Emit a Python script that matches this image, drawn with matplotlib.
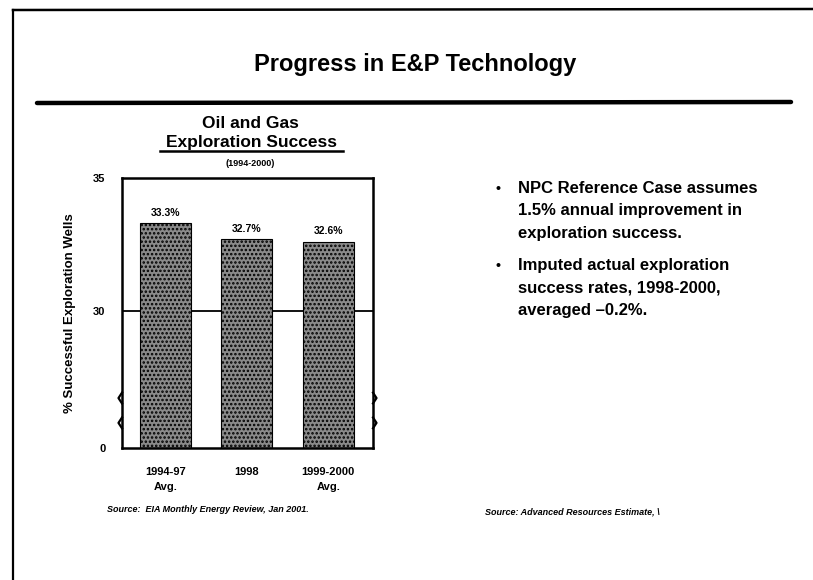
import numpy as np
import matplotlib
matplotlib.use("Agg")
import matplotlib.pyplot as plt
from matplotlib.lines import Line2D

categories = ["1994-97\nAvg.", "1998", "1999-2000\nAvg."]
success = [33.3, 32.7, 32.6]
value_labels = ["33.3%", "32.7%", "32.6%"]
yticks = [0, 30, 35]
ytick_labels = ["0", "30", "35"]

plt.rcParams['font.family'] = ['Liberation Sans', 'DejaVu Sans']
plt.rcParams['hatch.linewidth'] = 1.2

W, H = 813, 580
fig = plt.figure(figsize=(W / 100, H / 100), dpi=100)

def fx(px):
    return px / W

def fy(py):
    return 1 - py / H

# slide frame
fig.add_artist(Line2D([fx(13), fx(13)], [fy(10), 0], color='black', lw=1.6))
fig.add_artist(Line2D([fx(13), 1], [fy(10), fy(9)], color='black', lw=1.8))
fig.add_artist(Line2D([fx(37), fx(791)], [fy(103), fy(102)], color='black', lw=3.2,
                      solid_capstyle='round'))

fig.text(fx(415), fy(64), "Progress in E&P Technology", ha='center', va='center',
         fontsize=17, fontweight='bold')

# break-axis scale: 0-30 compressed
LOW = 5.15

def fwd(v):
    v = np.asarray(v, dtype=float)
    return np.where(v <= 30, v * LOW / 30.0, LOW + (v - 30))

def inv(u):
    u = np.asarray(u, dtype=float)
    return np.where(u <= LOW, u * 30.0 / LOW, 30 + (u - LOW))

ax = fig.add_axes([fx(122), fy(448), fx(373) - fx(122), fy(178) - fy(448)])
ax.set_yscale('function', functions=(fwd, inv))
ax.set_ylim(0, 35)
x = np.arange(len(categories))
ax.set_xlim(-0.53, 2.55)

ax.axhline(30, color='black', lw=1.3, zorder=1)
bars = ax.bar(x, success, width=0.63, color='#8a8a8a', edgecolor='black',
              hatch='....', linewidth=0.8, zorder=2)
for xi, v, lab in zip(x, success, value_labels):
    ax.annotate(lab, (xi, v), xytext=(0, 4), textcoords='offset points',
                ha='center', va='bottom', fontsize=7.5, fontweight='bold')

ax.set_yticks(yticks)
ax.set_yticklabels(ytick_labels, fontsize=8, fontweight='bold')
ax.set_xticks(x)
ax.set_xticklabels(categories, fontsize=8, fontweight='bold', linespacing=1.6)
ax.tick_params(axis='both', length=0)
ax.tick_params(axis='y', pad=12)
ax.tick_params(axis='x', pad=14)
for s in ax.spines.values():
    s.set_linewidth(1.8)

# brace-like break marks on both spines
for xa, d in [(0, -1), (1, 1)]:
    for yc in (0.185, 0.093):
        ax.plot([xa, xa + d * 0.014, xa], [yc + 0.02, yc, yc - 0.02],
                transform=ax.transAxes, color='black', lw=1.6, clip_on=False,
                zorder=5)

ax.set_ylabel("% Successful Exploration Wells", fontsize=9.5, fontweight='bold',
              labelpad=12)

fig.text(fx(250), fy(123), "Oil and Gas", ha='center', va='center',
         fontsize=12.5, fontweight='bold')
fig.text(fx(251), fy(143), "Exploration Success", ha='center', va='center',
         fontsize=12.5, fontweight='bold')
fig.add_artist(Line2D([fx(160), fx(343)], [fy(151), fy(151)], color='black', lw=1.8))
fig.text(fx(250), fy(163), "(1994-2000)", ha='center', va='center',
         fontsize=6.5, fontweight='bold')

fig.text(fx(208), fy(509), "Source:  EIA Monthly Energy Review, Jan 2001.",
         ha='center', va='center', fontsize=6.5, fontstyle='italic', fontweight='bold')
fig.text(fx(485), fy(512), "Source: Advanced Resources Estimate, \\",
         ha='left', va='center', fontsize=6.5, fontstyle='italic', fontweight='bold')

bullets = [
    ["NPC Reference Case assumes", "1.5% annual improvement in", "exploration success."],
    ["Imputed actual exploration", "success rates, 1998-2000,", "averaged \u20130.2%."],
]
ys = [[189, 211, 233], [266, 288, 310]]
for lines, yy in zip(bullets, ys):
    fig.text(fx(498), fy(yy[0]), "\u2022", ha='center', va='center', fontsize=10,
             fontweight='bold')
    for t, py in zip(lines, yy):
        fig.text(fx(518), fy(py), t, ha='left', va='center', fontsize=12,
                 fontweight='bold')

fig.savefig("out.png", dpi=100)
